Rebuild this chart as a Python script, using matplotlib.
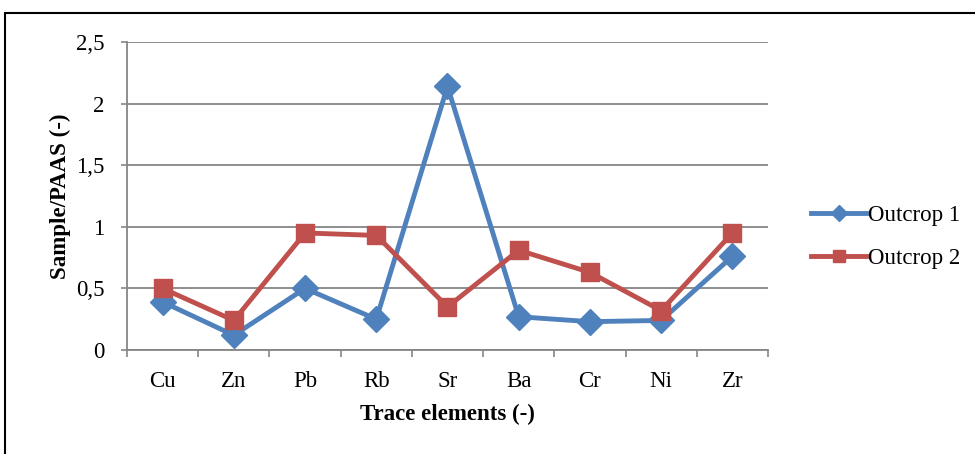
import matplotlib.pyplot as plt
from matplotlib.patches import Rectangle
from matplotlib.ticker import FixedLocator, FuncFormatter

elements = ["Cu", "Zn", "Pb", "Rb", "Sr", "Ba", "Cr", "Ni", "Zr"]
outcrop1 = [0.39, 0.12, 0.50, 0.25, 2.14, 0.27, 0.23, 0.24, 0.76]
outcrop2 = [0.50, 0.24, 0.95, 0.93, 0.35, 0.81, 0.63, 0.32, 0.95]
y_ticks = [0, 0.5, 1, 1.5, 2, 2.5]

plt.rcParams['font.family'] = ['Liberation Serif', 'DejaVu Serif']
grid_gray = "#868686"
fs = 16.5

fig = plt.figure(figsize=(9.75, 4.54), dpi=100)
ax = fig.add_axes([127 / 975, 1 - 350 / 454, (768 - 127) / 975, (350 - 42) / 454])

# outer chart border (only left/top visible in the crop)
fig.patches.append(Rectangle((5 / 975, -0.1), 1.2, 1 - 13 / 454 + 0.1,
                             transform=fig.transFigure, fill=False,
                             edgecolor="black", linewidth=1.5))

x = range(len(elements))
ax.plot(x, outcrop1, color="#4F81BD", linewidth=3.5, marker="D", markersize=13,
        label="Outcrop 1", zorder=3)
ax.plot(x, outcrop2, color="#C0504D", linewidth=3.5, marker="s", markersize=12.5,
        label="Outcrop 2", zorder=4)

ax.set_xlim(-0.5, len(elements) - 0.5)
ax.set_ylim(0, 2.5)
ax.set_yticks(y_ticks)
ax.yaxis.set_major_formatter(FuncFormatter(lambda v, p: f"{v:g}".replace(".", ",")))
ax.set_xticks(list(x))
ax.set_xticklabels(elements)
ax.xaxis.set_minor_locator(FixedLocator([i - 0.5 for i in range(len(elements) + 1)]))
ax.tick_params(axis="x", which="major", length=0, pad=15, labelsize=fs)
ax.tick_params(axis="x", which="minor", length=5, color=grid_gray, width=1.2)
ax.tick_params(axis="y", length=4, color=grid_gray, width=1.2, pad=12, labelsize=fs)

ax.grid(axis="y", color=grid_gray, linewidth=1.3)
ax.set_axisbelow(True)
for side in ["top", "right"]:
    ax.spines[side].set_visible(False)
for side in ["left", "bottom"]:
    ax.spines[side].set_color(grid_gray)
    ax.spines[side].set_linewidth(1.3)

ax.set_xlabel("Trace elements (-)", fontsize=fs, fontweight="bold", labelpad=9)
ax.set_ylabel("Sample/PAAS (-)", fontsize=fs, fontweight="bold", labelpad=4)

ax.legend(loc="center left", bbox_to_anchor=(1.035, 0.367), frameon=False,
          fontsize=fs, handlelength=2.4, handletextpad=0.1, labelspacing=0.95,
          markerscale=0.65)

fig.savefig("out.png", dpi=100)
